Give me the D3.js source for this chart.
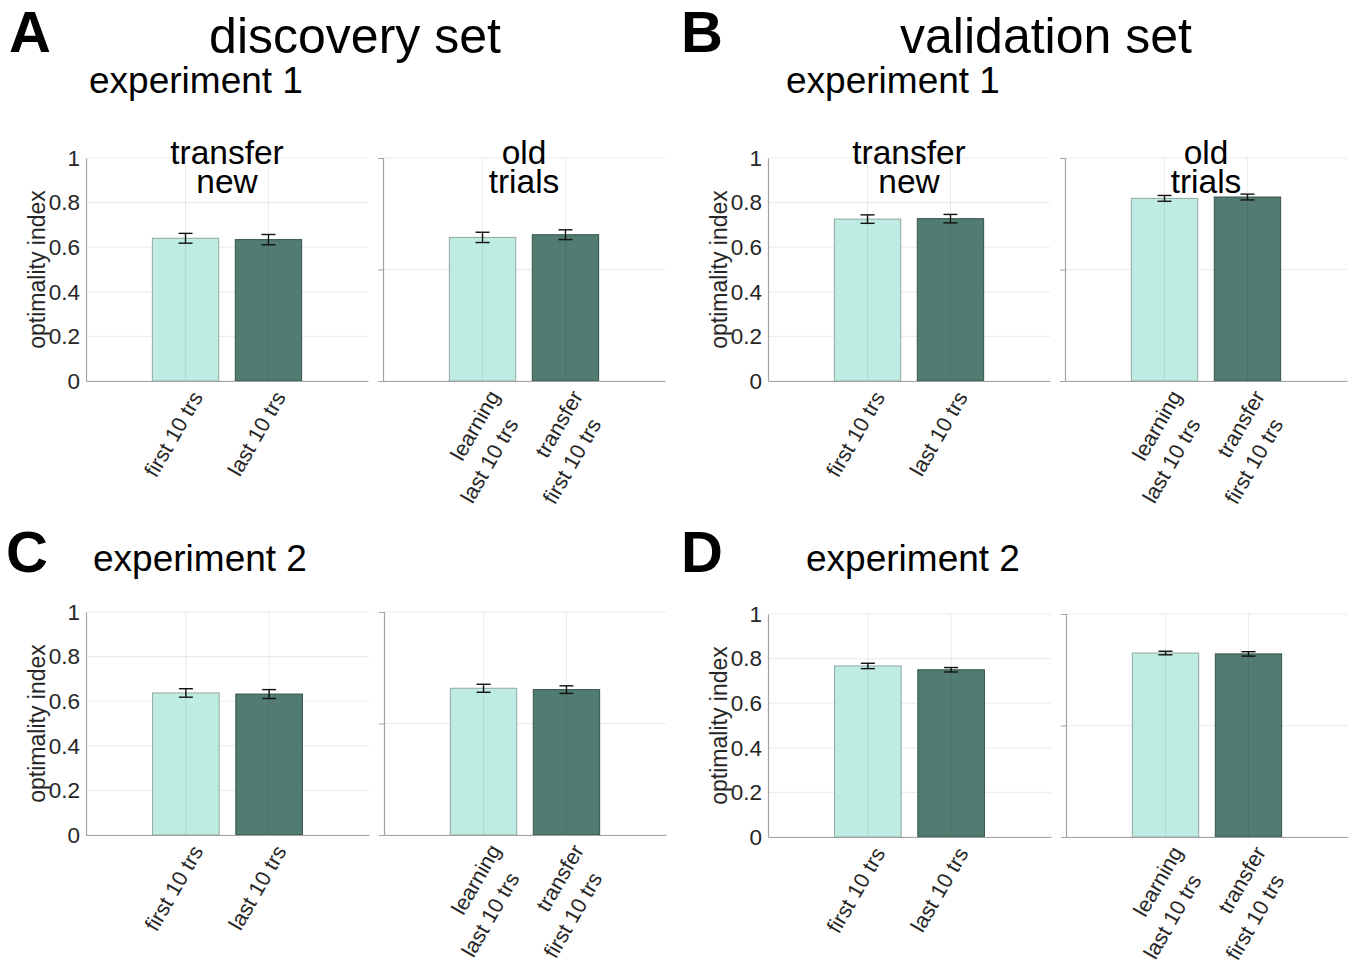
<!DOCTYPE html>
<html>
<head>
<meta charset="utf-8">
<script src="https://cdn.jsdelivr.net/npm/d3@7"></script>
<style>
  html, body { margin: 0; padding: 0; background: #fff; }
  svg { display: block; font-family: "Liberation Sans", Arial, Helvetica, sans-serif; }
</style>
</head>
<body>
<svg id="chart" width="1354" height="978"></svg>
<script>
// ---------------- data ----------------
const panelLetters = ["A", "B", "C", "D"];
const setTitles = ["discovery set", "validation set"];
const experimentTitles = ["experiment 1", "experiment 1", "experiment 2", "experiment 2"];
const newTitle = ["transfer", "new"];
const oldTitle = ["old", "trials"];
const categoriesNew = [["first 10 trs"], ["last 10 trs"]];
const categoriesOld = [["learning", "last 10 trs"], ["transfer", "first 10 trs"]];
const yTicksLeft = [0, 0.2, 0.4, 0.6, 0.8, 1];
const yTicksRight = [0, 0.5, 1];
const yLabel = "optimality index";

// means and standard errors
const meansA_new = [0.640, 0.634];  const errA_new = [0.022, 0.023];
const meansA_old = [0.644, 0.656];  const errA_old = [0.023, 0.022];
const meansB_new = [0.726, 0.728];  const errB_new = [0.019, 0.019];
const meansB_old = [0.819, 0.825];  const errB_old = [0.013, 0.013];
const meansC_new = [0.637, 0.632];  const errC_new = [0.019, 0.020];
const meansC_old = [0.658, 0.652];  const errC_old = [0.018, 0.017];
const meansD_new = [0.767, 0.750];  const errD_new = [0.012, 0.010];
const meansD_old = [0.825, 0.821];  const errD_old = [0.008, 0.010];

// ---------------- layout ----------------
const svg = d3.select("#chart");
const FONT = '"Liberation Sans", Arial, Helvetica, sans-serif';
const barFill = ["#bfece2", "#527c72"];
const barEdge = ["#8fa8a1", "#34534b"];
const axisColor = "#a3a3a3";
const tickTextColor = "#262626";
const ROT = -60;

const layout = [
  { letter: 0, lx: 9, ly: 52, set: 0, setX: 355, expX: 196, expY: 93, titleY: 164,
    top: 158, bottom: 381, left: [86, 368], right: [383, 665],
    data: [[meansA_new, errA_new], [meansA_old, errA_old]], titles: true },
  { letter: 1, lx: 681, ly: 52, set: 1, setX: 1046, expX: 893, expY: 93, titleY: 164,
    top: 158, bottom: 381, left: [768, 1050], right: [1065, 1347],
    data: [[meansB_new, errB_new], [meansB_old, errB_old]], titles: true },
  { letter: 2, lx: 6, ly: 572, set: null, expX: 200, expY: 571,
    top: 612, bottom: 835, left: [86, 369], right: [384, 666],
    data: [[meansC_new, errC_new], [meansC_old, errC_old]], titles: false },
  { letter: 3, lx: 681, ly: 572, set: null, expX: 913, expY: 571,
    top: 614, bottom: 837, left: [768, 1051], right: [1066, 1348],
    data: [[meansD_new, errD_new], [meansD_old, errD_old]], titles: false }
];

function drawAxes(g, xr, top, bottom, means, errs, isLeft, cats, title) {
  const x = d3.scaleLinear().domain([-0.2, 3.2]).range(xr);
  const y = d3.scaleLinear().domain([0, 1]).range([bottom, top]);
  const ticks = isLeft ? yTicksLeft : yTicksRight;

  // horizontal grid
  g.append("g").selectAll("line").data(ticks).join("line")
    .attr("x1", xr[0]).attr("x2", xr[1])
    .attr("y1", d => y(d)).attr("y2", d => y(d))
    .attr("stroke", "#ebebeb").attr("stroke-width", 1);

  // bars
  const idx = [0, 1];
  g.append("g").selectAll("rect").data(idx).join("rect")
    .attr("x", i => x(i + 1 - 0.4))
    .attr("width", i => x(i + 1 + 0.4) - x(i + 1 - 0.4))
    .attr("y", i => y(means[i]))
    .attr("height", i => y(0) - y(means[i]))
    .attr("fill", i => barFill[i])
    .attr("stroke", i => barEdge[i]).attr("stroke-width", 1);

  // vertical grid (drawn translucent over the bars)
  g.append("g").selectAll("line").data([1, 2]).join("line")
    .attr("x1", d => x(d)).attr("x2", d => x(d))
    .attr("y1", top).attr("y2", bottom)
    .attr("stroke", "#000").attr("stroke-opacity", 0.08).attr("stroke-width", 1);

  // error bars
  const eb = g.append("g").attr("stroke", "#111").attr("stroke-width", 1.4);
  idx.forEach(i => {
    const cx = x(i + 1), y1 = y(means[i] + errs[i]), y2 = y(means[i] - errs[i]);
    eb.append("line").attr("x1", cx).attr("x2", cx).attr("y1", y1).attr("y2", y2);
    eb.append("line").attr("x1", cx - 7).attr("x2", cx + 7).attr("y1", y1).attr("y2", y1);
    eb.append("line").attr("x1", cx - 7).attr("x2", cx + 7).attr("y1", y2).attr("y2", y2);
  });

  // y axis
  const yAxis = d3.axisLeft(y).tickValues(ticks).tickSize(isLeft ? 0 : 5)
    .tickFormat(d => isLeft ? String(d) : "");
  const ya = g.append("g").attr("transform", `translate(${xr[0]},0)`).call(yAxis);
  ya.select(".domain").attr("stroke", axisColor).attr("stroke-width", 1.2);
  ya.selectAll(".tick line").attr("stroke", axisColor);
  ya.selectAll(".tick text").attr("x", -6).attr("fill", tickTextColor)
    .style("font-size", "22.5px").style("font-family", FONT);
  if (!isLeft) ya.selectAll(".tick").filter(d => d !== 0.5).select("line").remove();

  // x axis
  const xAxis = d3.axisBottom(x).tickValues([1, 2]).tickSize(0).tickFormat("");
  const xa = g.append("g").attr("transform", `translate(0,${bottom})`).call(xAxis);
  xa.select(".domain").attr("stroke", axisColor).attr("stroke-width", 1.2);

  // rotated x tick labels
  cats.forEach((lines, i) => {
    const single = lines.length === 1;
    const ax = x(i + 1) + (single ? 18 : 18);
    const ay = bottom + (single ? 16 : 15);
    const t = g.append("text")
      .attr("transform", `translate(${ax},${ay}) rotate(${ROT})`)
      .attr("text-anchor", "end").attr("fill", tickTextColor)
      .style("font-size", "21.5px");
    lines.forEach((s, k) => {
      t.append("tspan").attr("x", k === 0 ? 0 : -15).attr("dy", k === 0 ? 0 : 30).text(s);
    });
  });

  // subplot title (two lines, one text element)
  if (title) {
    const cx = (xr[0] + xr[1]) / 2;
    const tt = g.append("text").attr("y", title.y)
      .attr("text-anchor", "middle").attr("fill", "#000")
      .style("font-size", "33.5px");
    title.lines.forEach((s, k) => {
      tt.append("tspan").attr("x", cx).attr("dy", k === 0 ? 0 : 29).text(s);
    });
  }

  // y label
  if (isLeft) {
    g.append("text")
      .attr("transform", `translate(${xr[0] - 41},${(top + bottom) / 2}) rotate(-90)`)
      .attr("text-anchor", "middle").attr("fill", tickTextColor)
      .style("font-size", "23px").text(yLabel);
  }
}

layout.forEach(p => {
  const g = svg.append("g");
  g.append("text").attr("x", p.lx).attr("y", p.ly).attr("fill", "#000")
    .style("font-size", "58px").style("font-weight", "bold").text(panelLetters[p.letter]);
  if (p.set !== null) {
    g.append("text").attr("x", p.setX).attr("y", 53).attr("text-anchor", "middle")
      .attr("fill", "#000").style("font-size", "50px").text(setTitles[p.set]);
  }
  g.append("text").attr("x", p.expX).attr("y", p.expY).attr("text-anchor", "middle")
    .attr("fill", "#000").style("font-size", "37px").text(experimentTitles[p.letter]);

  drawAxes(g, p.left, p.top, p.bottom, p.data[0][0], p.data[0][1], true, categoriesNew,
    p.titles ? { lines: newTitle, y: p.titleY } : null);
  drawAxes(g, p.right, p.top, p.bottom, p.data[1][0], p.data[1][1], false, categoriesOld,
    p.titles ? { lines: oldTitle, y: p.titleY } : null);
});
</script>
</body>
</html>
